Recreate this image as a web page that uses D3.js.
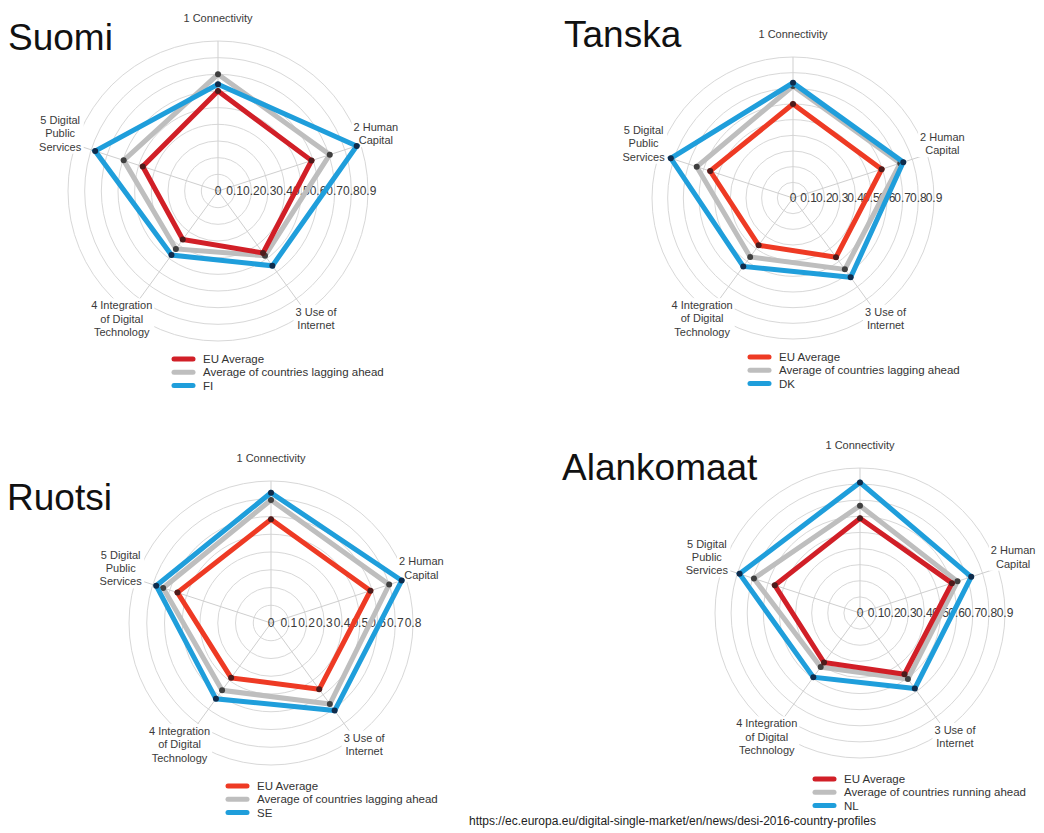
<!DOCTYPE html>
<html>
<head>
<meta charset="utf-8">
<script src="https://cdn.jsdelivr.net/npm/d3@7"></script>
<style>
  html, body { margin: 0; padding: 0; background: #fff; }
  svg { display: block; font-family: "Liberation Sans", Arial, sans-serif; }
</style>
</head>
<body>
<svg id="chart" width="1044" height="833"></svg>
<script>
// DESI 2016 dimension scores, one radar per country
const axisLabelLines = [
  ["1 Connectivity"],
  ["2 Human", "Capital"],
  ["3 Use of", "Internet"],
  ["4 Integration", "of Digital", "Technology"],
  ["5 Digital", "Public", "Services"]
];
const panelTitles = ["Suomi", "Tanska", "Ruotsi", "Alankomaat"];
const countryCodes = ["FI", "DK", "SE", "NL"];
const euLabel = "EU Average";
const peerLabels = [
  "Average of countries lagging ahead",
  "Average of countries lagging ahead",
  "Average of countries lagging ahead",
  "Average of countries running ahead"
];

// scores per dimension: Connectivity, Human Capital, Use of Internet, Integration, Public Services
const euAverage = [
  [0.60, 0.59, 0.46, 0.36, 0.475],
  [0.60, 0.595, 0.467, 0.373, 0.556],
  [0.584, 0.589, 0.462, 0.382, 0.554],
  [0.588, 0.60, 0.47, 0.38, 0.556]
];
const peerAverage = [
  [0.70, 0.705, 0.48, 0.43, 0.595],
  [0.715, 0.72, 0.563, 0.465, 0.646],
  [0.693, 0.70, 0.564, 0.469, 0.639],
  [0.666, 0.636, 0.506, 0.415, 0.692]
];
const countryScores = [
  [0.64, 0.875, 0.555, 0.475, 0.775],
  [0.735, 0.74, 0.626, 0.54, 0.82],
  [0.734, 0.774, 0.61, 0.528, 0.68],
  [0.81, 0.726, 0.579, 0.493, 0.786]
];
const scaleMax = [0.9, 0.9, 0.8, 0.9];
const tickLabels = [
  ["0", "0.1", "0.2", "0.3", "0.4", "0.5", "0.6", "0.7", "0.8", "0.9"],
  ["0", "0.1", "0.2", "0.3", "0.4", "0.5", "0.6", "0.7", "0.8", "0.9"],
  ["0", "0.1", "0.2", "0.3", "0.4", "0.5", "0.6", "0.7", "0.8"],
  ["0", "0.1", "0.2", "0.3", "0.4", "0.5", "0.6", "0.7", "0.8", "0.9"]
];
const sourceUrl = "https://ec.europa.eu/digital-single-market/en/news/desi-2016-country-profiles";

// panel geometry and styling
const layout = [
  { cx: 218, cy: 191, r: 150, tx: 8,   ty: 50,  lx: 172, ly: 359, red: "#d11f27" },
  { cx: 793, cy: 198, r: 141, tx: 564, ty: 47,  lx: 748, ly: 357, red: "#ee3a24" },
  { cx: 271, cy: 623, r: 142, tx: 7,   ty: 510, lx: 226, ly: 786, red: "#ee3a24" },
  { cx: 860, cy: 613, r: 145, tx: 562, ty: 480, lx: 813, ly: 779, red: "#d11f27" }
];
const grayColor = "#bebebe";
const blueColor = "#1f9edb";
const labelOffset = [23, 18, 11, 10, 18];
const labelTurn = [0, -2, -1.5, 1, 2];
const lineH = 13.3;

const svg = d3.select("#chart");
svg.append("rect").attr("width", 1044).attr("height", 833).attr("fill", "#fff");

const nAxes = axisLabelLines.length;
const angleOf = i => i * 2 * Math.PI / nAxes;   // 0 = up, clockwise

panelTitles.forEach((title, p) => {
  const L = layout[p];
  const rScale = d3.scaleLinear().domain([0, scaleMax[p]]).range([0, L.r]);
  const ticks = tickLabels[p].map(Number);
  const g = svg.append("g").attr("class", "panel");

  // title
  svg.append("text")
    .attr("x", L.tx).attr("y", L.ty)
    .attr("font-size", 37).attr("fill", "#111")
    .text(title);

  const plot = g.append("g").attr("transform", `translate(${L.cx},${L.cy})`);

  // concentric rings
  plot.selectAll("circle.ring")
    .data(ticks.filter(t => t > 0))
    .join("circle")
    .attr("class", "ring")
    .attr("r", d => rScale(d))
    .attr("fill", "none")
    .attr("stroke", "#d8d8d8")
    .attr("stroke-width", 1);

  // spokes
  plot.selectAll("line.spoke")
    .data(d3.range(nAxes))
    .join("line")
    .attr("class", "spoke")
    .attr("x1", 0).attr("y1", 0)
    .attr("x2", i => Math.sin(angleOf(i)) * L.r)
    .attr("y2", i => -Math.cos(angleOf(i)) * L.r)
    .attr("stroke", "#cfcfcf")
    .attr("stroke-width", 1);

  // axis labels with a white backing box
  axisLabelLines.forEach((lines, i) => {
    const a = angleOf(i) + labelTurn[i] * Math.PI / 180;
    const dist = L.r + labelOffset[i];
    const x = Math.sin(a) * dist;
    const y = -Math.cos(a) * dist;
    const lg = plot.append("g");
    const bg = lg.append("rect").attr("fill", "#fff");
    const t = lg.append("text")
      .attr("text-anchor", "middle")
      .attr("font-size", 11)
      .attr("fill", "#3a3a3a");
    const top = y - (lines.length - 1) * lineH / 2;
    lines.forEach((s, k) => {
      t.append("tspan")
        .attr("x", x)
        .attr("y", top + k * lineH)
        .attr("dy", "0.35em")
        .text(s);
    });
    const bb = t.node().getBBox();
    bg.attr("x", bb.x - 2).attr("y", bb.y - 1)
      .attr("width", bb.width + 4).attr("height", bb.height + 2);
  });

  // value ticks along the horizontal
  plot.selectAll("text.tick")
    .data(tickLabels[p])
    .join("text")
    .attr("class", "tick")
    .attr("x", d => rScale(+d))
    .attr("y", 0)
    .attr("dy", "0.35em")
    .attr("text-anchor", "middle")
    .attr("font-size", 12)
    .attr("fill", "#3a3a3a")
    .text(d => d);

  // series
  const series = [
    { values: peerAverage[p], color: grayColor, dot: "#3f3f3f" },
    { values: euAverage[p], color: L.red, dot: "#4d1b1b" },
    { values: countryScores[p], color: blueColor, dot: "#0f2c4c" }
  ];
  const radial = d3.lineRadial()
    .angle((d, i) => angleOf(i))
    .radius(d => rScale(d))
    .curve(d3.curveLinearClosed);

  series.forEach(s => {
    plot.append("path")
      .datum(s.values)
      .attr("d", radial)
      .attr("fill", "none")
      .attr("stroke", s.color)
      .attr("stroke-width", 5)
      .attr("stroke-linejoin", "miter");
    plot.selectAll(null)
      .data(s.values)
      .join("circle")
      .attr("cx", (d, i) => Math.sin(angleOf(i)) * rScale(d))
      .attr("cy", (d, i) => -Math.cos(angleOf(i)) * rScale(d))
      .attr("r", 3)
      .attr("fill", s.dot);
  });

  // legend
  const legendItems = [
    { label: euLabel, color: L.red },
    { label: peerLabels[p], color: grayColor },
    { label: countryCodes[p], color: blueColor }
  ];
  const leg = svg.append("g").attr("transform", `translate(${L.lx},${L.ly})`);
  legendItems.forEach((it, k) => {
    leg.append("line")
      .attr("x1", 2).attr("x2", 21)
      .attr("y1", k * lineH).attr("y2", k * lineH)
      .attr("stroke", it.color)
      .attr("stroke-width", 5)
      .attr("stroke-linecap", "round");
    leg.append("text")
      .attr("x", 31).attr("y", k * lineH)
      .attr("dy", "0.35em")
      .attr("font-size", 11.5)
      .attr("fill", "#333")
      .text(it.label);
  });
});

// source line
svg.append("text")
  .attr("x", 469).attr("y", 825)
  .attr("font-size", 12)
  .attr("fill", "#222")
  .text(sourceUrl);
</script>
</body>
</html>
